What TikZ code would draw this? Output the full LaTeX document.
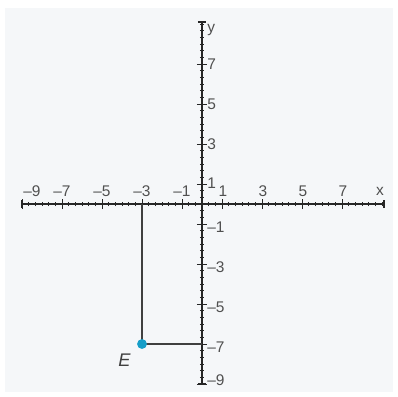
\documentclass[tikz,border=0pt]{standalone}
\usepackage{fontspec}
\setmainfont{Liberation Sans}
\usetikzlibrary{positioning}

\definecolor{gridbg}{RGB}{245,247,249}
\definecolor{ptblue}{RGB}{22,158,200}
\definecolor{lblgray}{RGB}{80,80,80}

\begin{document}
\begin{tikzpicture}[
      x=0.5cm, y=0.5cm,
      axis/.style={thick, black!85},
      guide/.style={thick, black!75},
      tick/.style={black!85, semithick},
      lbl/.style={font=\fontsize{11}{13}\selectfont, text=lblgray, inner sep=0pt},
      dot/.style={circle, fill=ptblue, inner sep=0pt, minimum size=7pt}
    ]
    \useasboundingbox (-10.1,-9.65) rectangle (9.8,10.2);
    \fill[gridbg] (-9.85,-9.4) rectangle (9.55,9.8);

    % axes
    \coordinate (xl) at (-9,0);
    \coordinate (xr) at (9.1,0);
    \coordinate (yb) at (0,-9);
    \coordinate (yt) at (0,9.1);
    \draw[axis] (xl) -- (xr);
    \draw[axis] (yb) -- (yt);
    \draw[axis] ([yshift=-3pt]xl) -- ([yshift=3pt]xl);
    \draw[axis] ([yshift=-3pt]xr) -- ([yshift=3pt]xr);
    \draw[axis] ([xshift=-3pt]yb) -- ([xshift=3pt]yb);
    \draw[axis] ([xshift=-3pt]yt) -- ([xshift=3pt]yt);

    % ticks
    \foreach \i in {-27,...,27}
      \draw[tick] (\i/3,-0.1) -- (\i/3,0.1) (-0.1,\i/3) -- (0.1,\i/3);
    \foreach \k in {-9,-7,...,7}
      \draw[tick] (\k,-0.25) -- (\k,0.25) (-0.25,\k) -- (0.25,\k);

    % x labels
    \node[lbl] (xm9) at (-8.5,0.65) {\textendash9};
    \foreach \k in {-7,-5,-3,-1}
      \node[lbl] (xm\k) at (\k,0.65) {\textendash\the\numexpr-\k\relax};
    \foreach \k in {1,3,5,7}
      \node[lbl] (xp\k) at (\k+0.05,0.65) {\k};
    \node[lbl] (xname) at (8.9,0.65) {x};

    % y labels
    \node[lbl, anchor=west] (yname) at (0.25,8.7) {y};
    \foreach \k in {3,5,7}
      \node[lbl, anchor=west] (yp\k) at (0.25,\k) {\k};
    \node[lbl, anchor=west] (yp1) at (0.25,1.05) {1};
    \foreach \k in {-1,-3,-5,-7}
      \node[lbl, anchor=west] (ym\k) at (0.25,\k-0.15) {\textendash\the\numexpr-\k\relax};
    \node[lbl, anchor=west] (ym9) at (0.25,-8.8) {\textendash9};

    % point E
    \coordinate (Ex) at (-3,0);
    \coordinate (Ey) at (0,-7);
    \draw[guide] (Ex) -- (-3,-7) -- (Ey);
    \node[dot] (E) at (-3,-7) {};
    \node[font=\fontsize{13}{15}\selectfont\itshape, text=black!75, below left=1pt and 2pt of E] (Elbl) {E};
  \end{tikzpicture}
\end{document}
